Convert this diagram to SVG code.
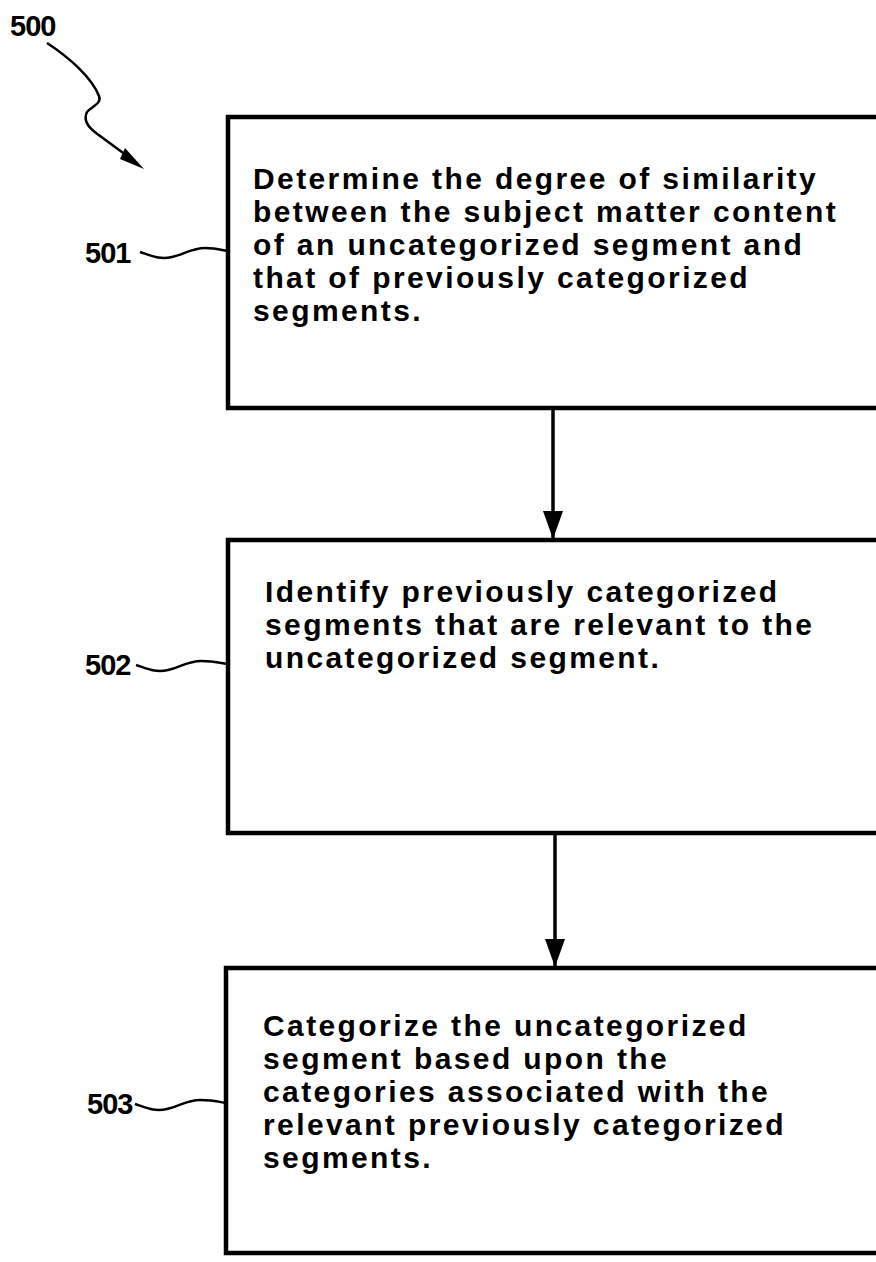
<svg xmlns="http://www.w3.org/2000/svg" width="876" height="1262" viewBox="0 0 876 1262">
<style>
.box{fill:#fff;stroke:#000;stroke-width:4.5}
.t{font-family:"Liberation Sans",Arial,sans-serif;font-weight:bold;font-size:30px;letter-spacing:2.4px;fill:#000}
.lbl{font-family:"Liberation Sans",Arial,sans-serif;font-weight:bold;font-size:29px;fill:#000;letter-spacing:-1px}
.ld{fill:none;stroke:#000;stroke-width:2.5}
.cn{fill:none;stroke:#000;stroke-width:3.5}
</style>
<defs>
<marker id="ah" markerWidth="28" markerHeight="20" refX="27" refY="10" orient="auto" markerUnits="userSpaceOnUse" viewBox="0 0 28 20">
<path d="M0,0 L28,10 L0,20 Z" fill="#000"/>
</marker>
</defs>
<rect width="876" height="1262" fill="#fff"/>
<g id="label500">
<text class="lbl" x="10" y="36">500</text>
<path class="ld" d="M47,43 C70,58 92,78 99,96 C102,104 92,106 87,112 C83,120 88,127 96,133 L130,158" stroke-width="3"/>
<path d="M125,148 L144,169 L120,159 Z" fill="#000"/>
</g>
<g id="node501">
<rect class="box" x="228" y="117" width="660" height="291"/>
<text class="t" x="253" y="189">Determine the degree of similarity</text>
<text class="t" x="253" y="222">between the subject matter content</text>
<text class="t" x="253" y="255">of an uncategorized segment and</text>
<text class="t" x="253" y="288">that of previously categorized</text>
<text class="t" x="253" y="321">segments.</text>
<text class="lbl" x="85" y="263">501</text>
<path class="ld" d="M140,252 C152,256 160,260 172,257 C185,254 192,248 205,248 C215,248 222,250 228,251"/>
</g>
<g id="node502">
<rect class="box" x="228" y="540" width="660" height="293"/>
<text class="t" x="265" y="602">Identify previously categorized</text>
<text class="t" x="265" y="635">segments that are relevant to the</text>
<text class="t" x="265" y="668">uncategorized segment.</text>
<text class="lbl" x="85" y="675">502</text>
<path class="ld" d="M136,665 C148,669 156,673 168,670 C181,667 188,661 201,661 C213,661 221,663 228,664"/>
</g>
<g id="node503">
<rect class="box" x="226" y="968" width="662" height="285"/>
<text class="t" x="263" y="1036">Categorize the uncategorized</text>
<text class="t" x="263" y="1069">segment based upon the</text>
<text class="t" x="263" y="1102">categories associated with the</text>
<text class="t" x="263" y="1135">relevant previously categorized</text>
<text class="t" x="263" y="1168">segments.</text>
<text class="lbl" x="87" y="1114">503</text>
<path class="ld" d="M135,1104 C147,1108 155,1112 167,1109 C180,1106 187,1100 200,1100 C212,1100 220,1102 226,1103"/>
</g>
<g id="connectors">
<path class="cn" d="M553,410 L553,538" marker-end="url(#ah)"/>
<path class="cn" d="M555,835 L555,966" marker-end="url(#ah)"/>
</g>
</svg>
